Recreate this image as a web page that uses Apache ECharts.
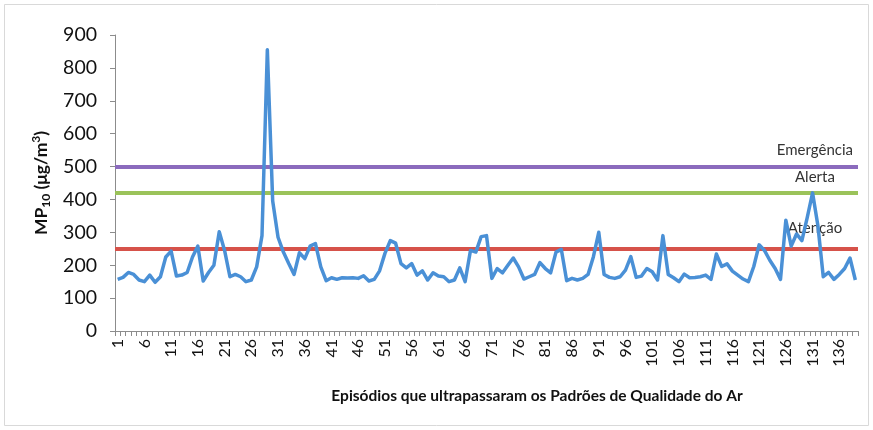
<!DOCTYPE html>
<html>
<head>
<meta charset="utf-8">
<script src="https://cdn.jsdelivr.net/npm/echarts@6/dist/echarts.min.js"></script>
<style>
  html, body { margin: 0; padding: 0; background: #fff; }
  #chart { width: 873px; height: 430px; }
</style>
</head>
<body>
<div id="chart"></div>
<script>
// Episode numbers on the x axis (1..139)
const episodes = [];
for (let i = 1; i <= 139; i++) episodes.push(String(i));

// MP10 concentration per episode (µg/m³)
const mp10 = [
  157, 163, 178, 172, 155, 150, 170, 148, 165, 225,
  243, 167, 170, 178, 225, 258, 152, 178, 200, 302,
  245, 165, 172, 165, 150, 155, 195, 290, 855, 395,
  285, 240, 205, 172, 238, 220, 258, 266, 195, 153,
  162, 157, 162, 161, 162, 160, 168, 152, 157, 183,
  236, 275, 267, 205, 192, 205, 170, 183, 155, 177,
  167, 165, 150, 155, 192, 150, 245, 240, 287, 290,
  160, 190, 177, 200, 222, 195, 158, 165, 172, 208,
  190, 177, 240, 248, 153, 160, 155, 160, 172, 226,
  300, 172, 163, 160, 165, 185, 226, 163, 167, 190,
  180, 155, 290, 172, 162, 150, 173, 162, 163, 165,
  170, 157, 234, 196, 204, 182, 170, 158, 150, 196,
  262, 245, 215, 190, 157, 337, 258, 295, 275, 345,
  420, 320, 165, 178, 157, 172, 190, 222, 155
];

// Air quality thresholds
const thresholdNames  = ['Emergência', 'Alerta', 'Atenção'];
const thresholdValues = [500, 420, 250];
const thresholdColors = ['#8b6bbd', '#9bc35a', '#d6524a'];
const thresholdLabelAt = '132';

const FONT = 'Lato, "Liberation Sans", sans-serif';

const chart = echarts.init(document.getElementById('chart'));

const thresholdSeries = thresholdNames.map((name, k) => ({
  name: name,
  type: 'line',
  data: [],
  silent: true,
  markLine: {
    symbol: 'none',
    silent: true,
    label: { show: false },
    lineStyle: { color: thresholdColors[k], width: 4, type: 'solid' },
    data: [{ yAxis: thresholdValues[k] }]
  },
  markPoint: {
    symbol: 'circle',
    symbolSize: 0,
    silent: true,
    label: {
      show: true,
      formatter: name,
      color: '#333333',
      fontFamily: FONT,
      fontSize: 15,
      offset: [-3, k === 2 ? -21 : -16]
    },
    data: [{ coord: [thresholdLabelAt, thresholdValues[k]] }]
  }
}));

chart.setOption({
  animation: false,
  backgroundColor: '#ffffff',
  textStyle: { fontFamily: FONT },
  grid: { left: 115, right: 15, top: 35, bottom: 99 },
  graphic: [{
    type: 'rect',
    shape: { x: 4.5, y: 4.5, width: 864, height: 421 },
    style: { fill: 'none', stroke: '#d9d9d9', lineWidth: 1 },
    silent: true,
    z: -1
  }],
  xAxis: {
    type: 'category',
    data: episodes,
    boundaryGap: true,
    name: 'Episódios que ultrapassaram os Padrões de Qualidade do Ar',
    nameLocation: 'middle',
    nameGap: 57,
    nameTextStyle: {
      fontFamily: FONT, fontSize: 15.5, fontWeight: 'bold', color: '#111111',
      padding: [0, 0, 0, 101]
    },
    axisLine: { lineStyle: { color: '#8c8c8c', width: 1 } },
    axisTick: { show: true, interval: 0, length: 5, lineStyle: { color: '#8c8c8c' } },
    axisLabel: {
      interval: 4,
      rotate: 90,
      margin: 8,
      fontFamily: FONT,
      fontSize: 16,
      color: '#111111'
    },
    splitLine: { show: false }
  },
  yAxis: {
    type: 'value',
    min: 0,
    max: 900,
    interval: 100,
    name: '{a|MP}{s|10}{a| (μg/m}{p|3}{a|)}',
    nameLocation: 'middle',
    nameRotate: 90,
    nameGap: 59,
    nameTextStyle: {
      rich: {
        a: { fontFamily: FONT, fontSize: 17.5, fontWeight: 'bold', color: '#111111', lineHeight: 22, verticalAlign: 'middle' },
        s: { fontFamily: FONT, fontSize: 12, fontWeight: 'bold', color: '#111111', lineHeight: 22, verticalAlign: 'bottom' },
        p: { fontFamily: FONT, fontSize: 12, fontWeight: 'bold', color: '#111111', lineHeight: 22, verticalAlign: 'top' }
      }
    },
    axisLine: { show: true, lineStyle: { color: '#8c8c8c', width: 1 } },
    axisTick: { show: true, length: 5, lineStyle: { color: '#8c8c8c' } },
    axisLabel: { margin: 18, fontFamily: FONT, fontSize: 19.5, color: '#111111' },
    splitLine: { show: false }
  },
  series: [{
    name: 'MP10',
    type: 'line',
    data: mp10,
    showSymbol: false,
    smooth: false,
    lineStyle: { color: '#4a90d6', width: 3.5, join: 'round' },
    z: 5
  }].concat(thresholdSeries)
});
</script>
</body>
</html>
